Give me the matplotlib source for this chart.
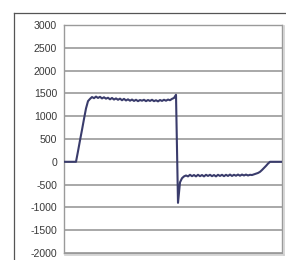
import numpy as np
import matplotlib.pyplot as plt
from matplotlib.lines import Line2D

# signal samples (every 2 time units)
idle_start = [0, 0, 0, 0, 0, 0, 0]
rise = [230, 470, 700, 940, 1170, 1330]
plateau_hi = [1380, 1420, 1395, 1430, 1400, 1425, 1390, 1415, 1385, 1405,
              1370, 1400, 1365, 1390, 1360, 1385, 1350, 1380, 1345, 1370,
              1340, 1365, 1335, 1360, 1330, 1355, 1340, 1360, 1330, 1355,
              1335, 1360, 1330, 1350, 1325, 1355, 1335, 1360, 1340, 1365,
              1350, 1380, 1400]
peak = [1470]
dip = [-900]
plateau_lo = [-450, -360, -320, -300, -320, -285, -315, -290, -320, -285,
              -315, -290, -320, -285, -310, -285, -315, -290, -320, -285,
              -310, -285, -315, -285, -310, -280, -310, -285, -305, -280,
              -305, -280, -300, -280, -300, -285, -290]
release = [-275, -260, -245, -220, -180, -135, -90, -40, 0]
idle_end = [0, 0, 0, 0, 0, 0]

values = idle_start + rise + plateau_hi + peak + dip + plateau_lo + release + idle_end
t = np.arange(len(values)) * 2

yticks = [3000, 2500, 2000, 1500, 1000, 500, 0, -500, -1000, -1500, -2000]

fig = plt.figure(figsize=(2.86, 2.60), dpi=100)
ax = fig.add_axes([64 / 286, 7 / 260, 218 / 286, 228 / 260])

for yv in yticks:
    ax.axhline(yv, color="#a8a8a8", lw=1.4, zorder=1)

ax.plot(t, values, color="#3a3c6c", lw=1.5, zorder=3)

ax.set_xlim(0, t[-1])
ax.set_ylim(-2000, 3000)
ax.set_yticks(yticks)
ax.set_yticklabels([str(v) for v in yticks], fontsize=7.6, color="#3a3a3a",
                   family="Liberation Sans")
ax.set_xticks([])
ax.tick_params(axis="y", length=0, pad=5)
for s in ax.spines.values():
    s.set_color("#9a9a9a")
    s.set_linewidth(1.0)

# outer frame lines (left and top only)
fig.add_artist(Line2D([14 / 286, 14 / 286], [0, 247 / 260], color="#555555", lw=0.9))
fig.add_artist(Line2D([14 / 286, 1], [247 / 260, 247 / 260], color="#555555", lw=0.9))
# soft shadow on right and bottom of plot frame
fig.add_artist(Line2D([283.5 / 286, 283.5 / 286], [5 / 260, 234 / 260], color="#cfcfcf", lw=1.2))
fig.add_artist(Line2D([65 / 286, 284 / 286], [5.5 / 260, 5.5 / 260], color="#cfcfcf", lw=1.2))

fig.savefig("out.png", dpi=100)
